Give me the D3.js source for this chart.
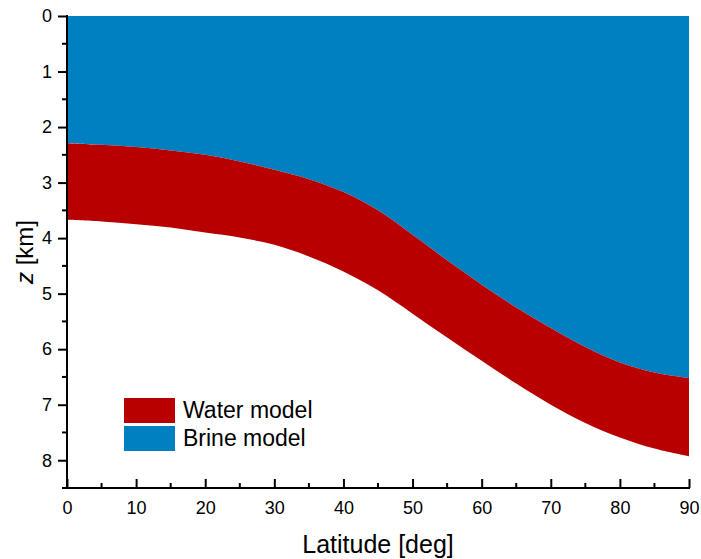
<!DOCTYPE html>
<html>
<head>
<meta charset="utf-8">
<script src="https://cdn.jsdelivr.net/npm/d3@7"></script>
<style>
  html, body { margin: 0; padding: 0; background: #fff; }
  svg text { font-family: "Liberation Sans", Arial, sans-serif; fill: #000; }
</style>
</head>
<body>
<svg id="chart" width="701" height="559"></svg>
<script>
// Latitude samples (deg)
const latitude = [0, 5, 10, 15, 20, 25, 30, 35, 40, 45, 50, 55, 60, 65, 70, 75, 80, 85, 90];
// Depth of the top of the water layer (= base of the brine layer), km
const waterTop = [2.29, 2.32, 2.36, 2.42, 2.50, 2.62, 2.77, 2.94, 3.17, 3.50, 3.94, 4.40, 4.84, 5.25, 5.62, 5.96, 6.24, 6.42, 6.52];
// Depth of the base of the water layer, km
const waterBottom = [3.67, 3.70, 3.75, 3.81, 3.90, 3.99, 4.12, 4.33, 4.60, 4.94, 5.36, 5.79, 6.21, 6.62, 7.00, 7.33, 7.59, 7.79, 7.93];
// Brine layer extends from the surface
const brineTop = latitude.map(() => 0);

const xTicks = [0, 10, 20, 30, 40, 50, 60, 70, 80, 90];
const yTicks = [0, 1, 2, 3, 4, 5, 6, 7, 8];
const legendItems = ["Water model", "Brine model"];
const legendColors = ["#B80000", "#0080C0"];

const margin = { left: 67, right: 12, top: 16, bottom: 71 };
const W = 701, H = 559;
const svg = d3.select("#chart");

const x = d3.scaleLinear().domain([0, 90]).range([margin.left, W - margin.right]);
const y = d3.scaleLinear().domain([0, 8.5]).range([margin.top, H - margin.bottom]);

const rows = latitude.map((lat, i) => ({ lat, b0: brineTop[i], t: waterTop[i], b: waterBottom[i] }));
const smooth = d3.curveCatmullRom.alpha(0.5);

// Brine layer: surface down to the top of the water layer
const brineArea = d3.area()
  .x(d => x(d.lat))
  .y0(d => y(d.b0))
  .y1(d => y(d.t))
  .curve(smooth);

// Water layer between its top and base
const waterArea = d3.area()
  .x(d => x(d.lat))
  .y0(d => y(d.t))
  .y1(d => y(d.b))
  .curve(smooth);

svg.append("path").attr("d", brineArea(rows)).attr("fill", legendColors[1]);
svg.append("path").attr("d", waterArea(rows)).attr("fill", legendColors[0]);

// Y axis: outward ticks
const yAxisG = svg.append("g").attr("transform", `translate(${margin.left},0)`);
const yMinor = d3.range(0.5, 8.5, 1);
yAxisG.selectAll("line.minor").data(yMinor).join("line")
  .attr("x1", -5).attr("x2", 0)
  .attr("y1", d => y(d)).attr("y2", d => y(d))
  .attr("stroke", "#000").attr("stroke-width", 2);
yAxisG.call(d3.axisLeft(y).tickValues(yTicks).tickSize(9).tickPadding(6).tickFormat(d3.format("d")))
  .call(g => g.select(".domain").remove());
yAxisG.append("line")
  .attr("x1", 0).attr("x2", 0).attr("y1", y(0) - 1).attr("y2", y(8.5))
  .attr("stroke", "#000").attr("stroke-width", 2);

// X axis: inward ticks
const xAxisG = svg.append("g").attr("transform", `translate(0,${y(8.5)})`);
const xMinor = d3.range(5, 90, 10);
xAxisG.selectAll("line.minor").data(xMinor).join("line")
  .attr("x1", d => x(d)).attr("x2", d => x(d))
  .attr("y1", 0).attr("y2", -5)
  .attr("stroke", "#000").attr("stroke-width", 2);
xAxisG.call(d3.axisBottom(x).tickValues(xTicks).tickSizeInner(-9).tickSizeOuter(0).tickPadding(10).tickFormat(d3.format("d")))
  .call(g => g.select(".domain").remove())
  .call(g => g.selectAll(".tick text").attr("dy", "0.71em").attr("y", 13));
xAxisG.append("line")
  .attr("x1", x(0) - 5).attr("x2", x(90) + 1).attr("y1", 0).attr("y2", 0)
  .attr("stroke", "#000").attr("stroke-width", 2);

svg.selectAll(".tick line").attr("stroke", "#000").attr("stroke-width", 2);
svg.selectAll(".tick text")
  .attr("font-size", 18)
  .attr("font-family", "'Liberation Sans', Arial, sans-serif");

// Axis titles
svg.append("text")
  .attr("x", 378).attr("y", 553)
  .attr("text-anchor", "middle").attr("font-size", 25)
  .text("Latitude [deg]");

const yTitle = svg.append("text")
  .attr("transform", `translate(33,${(y(0) + y(8.5)) / 2}) rotate(-90)`)
  .attr("text-anchor", "middle").attr("font-size", 24);
yTitle.append("tspan").attr("font-style", "italic").text("z");
yTitle.append("tspan").text(" [km]");

// Legend
const legend = svg.append("g").attr("transform", "translate(124,398)");
legendItems.forEach((label, i) => {
  legend.append("rect")
    .attr("x", 0).attr("y", i * 28).attr("width", 51).attr("height", 25)
    .attr("fill", legendColors[i]);
  legend.append("text")
    .attr("x", 59).attr("y", i * 28 + 20)
    .attr("font-size", 23)
    .text(label);
});
</script>
</body>
</html>
